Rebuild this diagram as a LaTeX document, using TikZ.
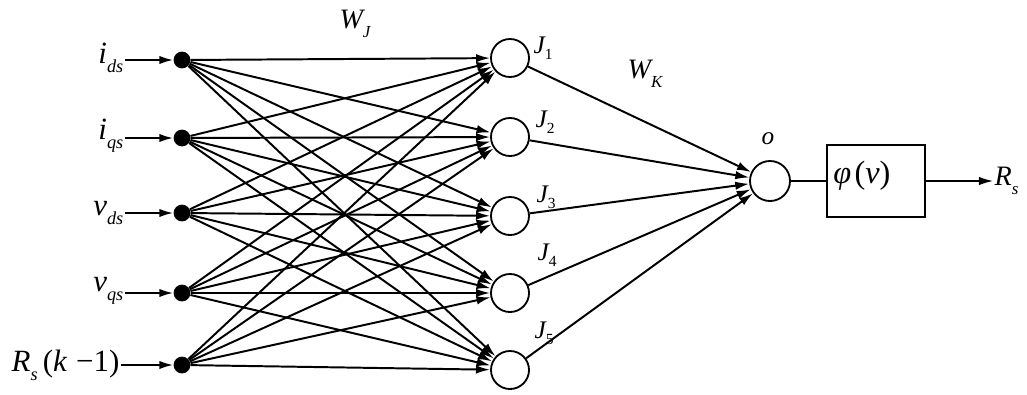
\documentclass[tikz,border=0pt]{standalone}
\usepackage{fontspec}
\setmainfont{Liberation Serif}
\usetikzlibrary{arrows.meta}
% lowered subscripts: italic letters and upright digits (optional size in pt)
\newcommand\lsub[2][13]{\raisebox{-0.3em}{\fontsize{#1}{#1}\selectfont\itshape #2}}
\newcommand\nsub[2][11]{\raisebox{-0.25em}{\fontsize{#1}{#1}\selectfont\upshape #2}}

\begin{document}
\begin{tikzpicture}[x=0.025cm,y=-0.025cm,
  lbl/.style={inner sep=1pt,font=\fontsize{22}{24}\selectfont\itshape},
  wlbl/.style={inner sep=1pt,font=\fontsize{20}{22}\selectfont\itshape},
  hlbl/.style={inner sep=1pt,font=\fontsize{18}{20}\selectfont\itshape},
  dot/.style={circle,fill=black,inner sep=0pt,minimum size=0.42cm},
  neuron/.style={circle,draw,line width=1.3pt,inner sep=0pt,minimum size=0.95cm},
  tip/.style={-{Latex[length=10pt,width=6pt]}},
  link/.style={tip,line width=1.4pt},
  feed/.style={tip,line width=1.5pt},
  thin/.style={line width=1pt}]

\useasboundingbox (0,0) rectangle (1027,395);

% input nodes
\node[dot] (in1) at (182,60) {};
\node[dot] (in2) at (182,138) {};
\node[dot] (in3) at (182,213) {};
\node[dot] (in4) at (182,293) {};
\node[dot] (in5) at (182,365) {};

% input labels
\node[lbl,anchor=east] (x1) at (125,58) {i\lsub{ds}};
\node[lbl,anchor=east] (x2) at (125,136) {i\lsub{qs}};
\node[lbl,anchor=east] (x3) at (125,213) {v\lsub{ds}};
\node[lbl,anchor=east] (x4) at (125,291) {v\lsub{qs}};
\node[lbl,anchor=east] (x5) at (121,365) {R\lsub{s}\,\upshape(\itshape k\hspace{0.3em}\upshape−1)};

\foreach \i in {1,...,5}
  \draw[feed] (x\i.east |- in\i) -- (in\i);

% hidden layer
\node[neuron] (h1) at (510,58) {};
\node[neuron] (h2) at (510,137) {};
\node[neuron] (h3) at (510,216) {};
\node[neuron] (h4) at (510,293) {};
\node[neuron] (h5) at (510,370) {};

\node[hlbl] (j1) at (543,48) {J\nsub{1}};
\node[hlbl] (j2) at (545,122) {J\nsub{2}};
\node[hlbl] (j3) at (546,197) {J\nsub{3}};
\node[hlbl] (j4) at (547,255) {J\nsub{4}};
\node[hlbl] (j5) at (544,333) {J\nsub{5}};

% full connection input -> hidden
\foreach \i in {1,...,5}
  \foreach \j in {1,...,5}
    \draw[link] (in\i) -- (h\j);

% output neuron
\node[neuron,minimum size=1.0cm] (o) at (770,181) {};
\node[hlbl] (olbl) at (768,139) {o};

\foreach \j in {1,...,5}
  \draw[link] (h\j) -- (o);

% activation block
\node[draw,line width=1.3pt,minimum width=2.45cm,minimum height=1.8cm,inner sep=0pt] (act) at (876,181) {};
\node[lbl,font=\fontsize{23}{25}\selectfont\itshape] (phi) at (862,176) {φ\hspace{0.1em}\upshape(\itshape v\upshape)};
\node[lbl,anchor=west,font=\fontsize{20}{22}\selectfont\itshape] (rs) at (993,181) {R\lsub[12]{s}};

\draw[thin] (o) -- (act);
\draw[thin,tip] (act) -- (rs);

% weight labels
\node[wlbl] (wj) at (355,24) {W\lsub[12]{J}};
\node[wlbl] (wk) at (645,74) {W\lsub[12]{K}};
\end{tikzpicture}
\end{document}
